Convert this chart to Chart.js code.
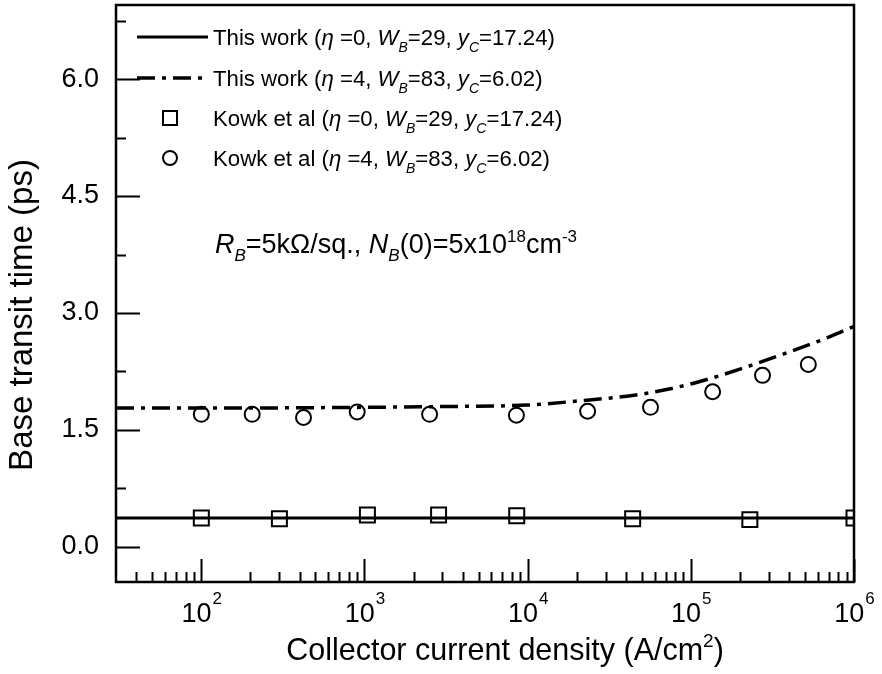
<!DOCTYPE html>
<html>
<head>
<meta charset="utf-8">
<script src="https://cdn.jsdelivr.net/npm/chart.js@4.4.1/dist/chart.umd.min.js"></script>
<style>
  html, body { margin: 0; padding: 0; background: #fff; }
  canvas { display: block; }
</style>
</head>
<body>
<canvas id="chart" width="882" height="674"></canvas>
<script>
// Base transit time versus collector current density

// axis ticks
const xTickValues = [1e2, 1e3, 1e4, 1e5, 1e6];
const xTickExponents = ['2', '3', '4', '5', '6'];
const yTickValues = [0, 1.5, 3.0, 4.5, 6.0];
const yMinorValues = [0.75, 2.25, 3.75, 5.25, 6.75];

// This work, eta = 0 (solid line)
const modelEta0X = [30, 1e2, 1e3, 1e4, 1e5, 1e6];
const modelEta0Y = [0.37, 0.37, 0.37, 0.37, 0.37, 0.37];

// This work, eta = 4 (dash-dot line)
const modelEta4X = [30, 100, 1000, 3000, 1e4, 2e4, 5e4, 1e5, 2e5, 4e5, 7e5, 1e6];
const modelEta4Y = [1.78, 1.78, 1.79, 1.80, 1.82, 1.87, 1.96, 2.09, 2.28, 2.50, 2.69, 2.83];

// Kowk et al, eta = 0 (squares)
const kowkEta0X = [100, 301, 1042, 2845, 8570, 44000, 230000, 1000000];
const kowkEta0Y = [0.37, 0.36, 0.41, 0.41, 0.40, 0.36, 0.35, 0.37];

// Kowk et al, eta = 4 (circles)
const kowkEta4X = [100, 205, 423, 902, 2506, 8530, 23300, 56600, 136000, 275000, 525000];
const kowkEta4Y = [1.70, 1.70, 1.66, 1.73, 1.70, 1.69, 1.74, 1.79, 1.99, 2.20, 2.34];

const FONT = '"Liberation Sans", Arial, Helvetica, sans-serif';
const DASH_DOT = [18, 7, 4, 7];

const pairs = (xs, ys) => xs.map((x, i) => ({ x: x, y: ys[i] }));

// mixed-style text: italics, subscripts, superscripts
function richWidth(ctx, parts, size) {
  let w = 0;
  for (const p of parts) {
    const fs = (p.sub || p.sup) ? Math.round(size * 0.62) : size;
    ctx.font = (p.it ? 'italic ' : '') + fs + 'px ' + FONT;
    w += ctx.measureText(p.t).width;
  }
  return w;
}

function drawRich(ctx, x, y, parts, size) {
  let cx = x;
  ctx.textAlign = 'left';
  ctx.textBaseline = 'alphabetic';
  for (const p of parts) {
    const small = p.sub || p.sup;
    const fs = small ? Math.round(size * 0.62) : size;
    ctx.font = (p.it ? 'italic ' : '') + fs + 'px ' + FONT;
    const dy = p.sub ? size * 0.30 : (p.sup ? -size * 0.42 : 0);
    ctx.fillText(p.t, cx, y + dy);
    cx += ctx.measureText(p.t).width;
  }
  return cx;
}

function paramParts(prefix, eta, wb, yc) {
  return [
    { t: prefix }, { t: '\u03B7', it: true }, { t: ' =' + eta + ', ' },
    { t: 'W', it: true }, { t: 'B', it: true, sub: true }, { t: '=' + wb + ', ' },
    { t: 'y', it: true }, { t: 'C', it: true, sub: true }, { t: '=' + yc + ')' }
  ];
}

const xTitleParts = [{ t: 'Collector current density (A/cm' }, { t: '2', sup: true }, { t: ')' }];
const yTitleText = 'Base transit time (ps)';

const decorPlugin = {
  id: 'decor',
  afterDraw(chart) {
    const ctx = chart.ctx;
    const area = chart.chartArea;
    const xs = chart.scales.x;
    const ys = chart.scales.y;
    ctx.save();
    ctx.strokeStyle = '#000';
    ctx.fillStyle = '#000';

    // frame
    ctx.lineWidth = 2.5;
    ctx.strokeRect(area.left, area.top, area.right - area.left, area.bottom - area.top);

    // inward ticks on the y axis
    ctx.lineWidth = 2;
    ctx.beginPath();
    yTickValues.forEach(v => {
      const py = Math.round(ys.getPixelForValue(v)) + 0.5;
      ctx.moveTo(area.left, py); ctx.lineTo(area.left + 24, py);
    });
    yMinorValues.forEach(v => {
      const py = Math.round(ys.getPixelForValue(v)) + 0.5;
      ctx.moveTo(area.left, py); ctx.lineTo(area.left + 10, py);
    });
    // inward ticks on the x axis
    xTickValues.forEach(v => {
      const px = Math.round(xs.getPixelForValue(v)) + 0.5;
      ctx.moveTo(px, area.bottom); ctx.lineTo(px, area.bottom - 23);
    });
    for (let d = 1; d <= 5; d++) {
      for (let m = 2; m <= 9; m++) {
        const v = m * Math.pow(10, d);
        if (v <= xs.min || v >= xs.max) continue;
        const px = Math.round(xs.getPixelForValue(v)) + 0.5;
        ctx.moveTo(px, area.bottom); ctx.lineTo(px, area.bottom - 10);
      }
    }
    ctx.stroke();

    // x tick labels as powers of ten
    xTickValues.forEach((v, i) => {
      const px = xs.getPixelForValue(v);
      ctx.font = '27px ' + FONT;
      const wBase = ctx.measureText('10').width;
      ctx.font = '17px ' + FONT;
      const wExp = ctx.measureText(xTickExponents[i]).width;
      const x0 = px - (wBase + wExp) / 2;
      ctx.textAlign = 'left';
      ctx.textBaseline = 'alphabetic';
      ctx.font = '27px ' + FONT;
      ctx.fillText('10', x0, area.bottom + 40);
      ctx.font = '17px ' + FONT;
      ctx.fillText(xTickExponents[i], x0 + wBase + 1, area.bottom + 22);
    });

    // axis titles
    const tw = richWidth(ctx, xTitleParts, 30.5);
    drawRich(ctx, 505 - tw / 2, 660, xTitleParts, 30.5);
    ctx.save();
    ctx.translate(23, 315);
    ctx.rotate(-Math.PI / 2);
    ctx.font = '33px ' + FONT;
    ctx.textAlign = 'center';
    ctx.textBaseline = 'middle';
    ctx.fillText(yTitleText, 0, 0);
    ctx.restore();

    // legend
    const sx0 = area.left + 21, sx1 = area.left + 92;
    const tx = area.left + 97;
    const rowC = [37, 78, 118, 158];
    const LS = 22.2;
    ctx.lineWidth = 3;
    ctx.setLineDash([]);
    ctx.beginPath(); ctx.moveTo(sx0, rowC[0]); ctx.lineTo(sx1, rowC[0]); ctx.stroke();
    ctx.lineWidth = 3.5;
    ctx.setLineDash(DASH_DOT);
    ctx.beginPath(); ctx.moveTo(sx0, rowC[1]); ctx.lineTo(sx1, rowC[1]); ctx.stroke();
    ctx.setLineDash([]);
    ctx.lineWidth = 2;
    const mx = area.left + 54;
    ctx.fillStyle = '#fff';
    ctx.beginPath(); ctx.rect(mx - 7, rowC[2] - 7, 14, 14); ctx.fill(); ctx.stroke();
    ctx.beginPath(); ctx.arc(mx, rowC[3], 7, 0, Math.PI * 2); ctx.fill(); ctx.stroke();
    ctx.fillStyle = '#000';

    drawRich(ctx, tx, rowC[0] + 8, paramParts('This work (', '0', '29', '17.24'), LS);
    drawRich(ctx, tx, rowC[1] + 8, paramParts('This work (', '4', '83', '6.02'), LS);
    drawRich(ctx, tx, rowC[2] + 8, paramParts('Kowk et al (', '0', '29', '17.24'), LS);
    drawRich(ctx, tx, rowC[3] + 8, paramParts('Kowk et al (', '4', '83', '6.02'), LS);

    // base parameters note
    drawRich(ctx, tx + 2, 253, [
      { t: 'R', it: true }, { t: 'B', it: true, sub: true }, { t: '=5k\u03A9/sq., ' },
      { t: 'N', it: true }, { t: 'B', it: true, sub: true }, { t: '(0)=5x10' },
      { t: '18', sup: true }, { t: 'cm' }, { t: '-3', sup: true }
    ], 27);

    ctx.restore();
  }
};

new Chart(document.getElementById('chart'), {
  type: 'scatter',
  data: {
    datasets: [
      {
        label: 'This work (eta=0)',
        data: pairs(modelEta0X, modelEta0Y),
        showLine: true,
        borderColor: '#000',
        borderWidth: 3,
        pointRadius: 0,
        fill: false
      },
      {
        label: 'This work (eta=4)',
        data: pairs(modelEta4X, modelEta4Y),
        showLine: true,
        borderColor: '#000',
        borderWidth: 3.5,
        borderDash: DASH_DOT,
        cubicInterpolationMode: 'monotone',
        pointRadius: 0,
        fill: false
      },
      {
        label: 'Kowk et al (eta=0)',
        data: pairs(kowkEta0X, kowkEta0Y),
        showLine: false,
        pointStyle: 'rect',
        pointRadius: 10.6,
        pointBorderWidth: 2,
        pointBorderColor: '#000',
        pointBackgroundColor: '#fff'
      },
      {
        label: 'Kowk et al (eta=4)',
        data: pairs(kowkEta4X, kowkEta4Y),
        showLine: false,
        pointStyle: 'circle',
        pointRadius: 7.5,
        pointBorderWidth: 2,
        pointBorderColor: '#000',
        pointBackgroundColor: '#fff'
      }
    ]
  },
  options: {
    responsive: false,
    animation: false,
    devicePixelRatio: 1,
    layout: { autoPadding: false, padding: { top: 5, right: 28, bottom: 0, left: 0 } },
    plugins: { legend: { display: false }, tooltip: { enabled: false } },
    scales: {
      x: {
        type: 'logarithmic',
        min: 30,
        max: 1e6,
        grid: { display: false, drawTicks: false },
        border: { display: false },
        ticks: { display: false },
        afterBuildTicks: s => { s.ticks = xTickValues.map(v => ({ value: v })); },
        afterFit: s => { s.height = 92; s.paddingLeft = 0; s.paddingRight = 0; }
      },
      y: {
        type: 'linear',
        min: -0.45,
        max: 6.95,
        grid: { display: false, drawTicks: false },
        border: { display: false },
        afterBuildTicks: s => { s.ticks = yTickValues.map(v => ({ value: v })); },
        afterFit: s => { s.width = 116; s.paddingTop = 0; s.paddingBottom = 0; },
        ticks: {
          color: '#000',
          padding: 17,
          font: { family: FONT, size: 27 },
          callback: v => Number(v).toFixed(1)
        }
      }
    }
  },
  plugins: [decorPlugin]
});
</script>
</body>
</html>
